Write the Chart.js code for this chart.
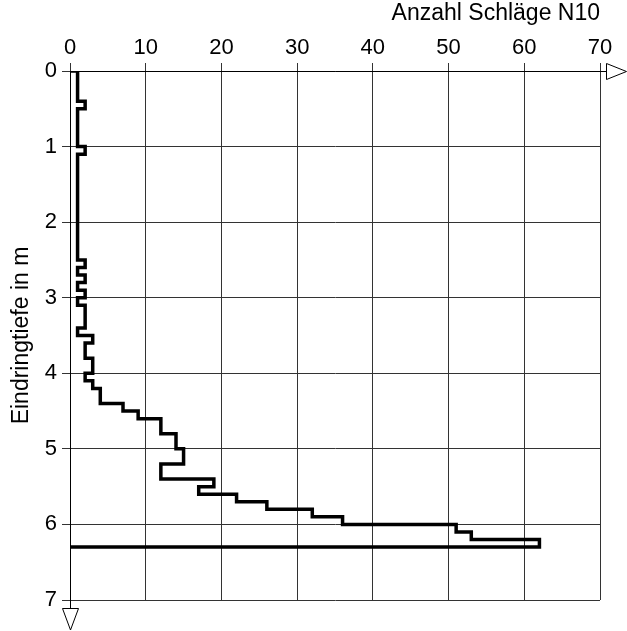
<!DOCTYPE html>
<html><head><meta charset="utf-8">
<script src="https://cdn.jsdelivr.net/npm/chart.js@4/dist/chart.umd.min.js"></script>
<style>html,body{margin:0;padding:0;background:#fff}</style>
</head><body>
<canvas id="c" width="627" height="631"></canvas>
<script>
// Penetration depth step (m) per reading
const depthStep = 0.1;
// Blows N10 per 0.1 m, from 0.0 m to 6.3 m
const blows = [
  1,1,1,1,2,1,1,1,1,1,
  2,1,1,1,1,1,1,1,1,1,
  1,1,1,1,1,2,1,2,1,2,
  1,2,2,2,1,3,2,2,3,3,
  2,3,4,4,7,9,12,12,14,14,
  15,15,12,12,19,17,22,26,32,36,
  51,53,62
];
const xTickValues = [0,10,20,30,40,50,60,70];
const yTickValues = [0,1,2,3,4,5,6,7];
const xTitle = 'Anzahl Schläge N10';
const yTitle = 'Eindringtiefe in m';

const pts = [{x:0, y:0}];
blows.forEach((v,i)=>{
  pts.push({x:v, y:Math.round(i*depthStep*100)/100});
  pts.push({x:v, y:Math.round((i+1)*depthStep*100)/100});
});
pts.push({x:0, y:Math.round(blows.length*depthStep*100)/100});

const FAM = '"Liberation Sans", Arial, sans-serif';
const TICKFONT = {family:FAM, size:22};
const TITLEFONT = {family:FAM, size:23};

const arrows = {
  id:'arrows',
  afterDraw(chart){
    const {ctx, chartArea:a} = chart;
    ctx.save();
    ctx.strokeStyle = '#000';
    ctx.lineWidth = 1;
    ctx.beginPath();
    ctx.moveTo(a.right, a.top+0.5); ctx.lineTo(a.right+7, a.top+0.5);
    ctx.moveTo(a.left+0.5, a.bottom); ctx.lineTo(a.left+0.5, a.bottom+8);
    ctx.stroke();
    ctx.fillStyle = '#fff';
    ctx.beginPath();
    ctx.moveTo(a.right+6.5, a.top-7.5);
    ctx.lineTo(a.right+26.5, a.top+0.5);
    ctx.lineTo(a.right+6.5, a.top+8.5);
    ctx.closePath(); ctx.fill(); ctx.stroke();
    ctx.beginPath();
    ctx.moveTo(a.left-7.5, a.bottom+8.5);
    ctx.lineTo(a.left+8.5, a.bottom+8.5);
    ctx.lineTo(a.left+0.5, a.bottom+30);
    ctx.closePath(); ctx.fill(); ctx.stroke();
    ctx.restore();
  }
};

new Chart(document.getElementById('c'), {
  type:'scatter',
  data:{datasets:[{
    data:pts, showLine:true, pointRadius:0, borderColor:'#000',
    borderWidth:3.5, borderJoinStyle:'miter', tension:0, fill:false
  }]},
  options:{
    responsive:false, animation:false,
    layout:{padding:{top:0,left:0,right:27,bottom:31}},
    plugins:{legend:{display:false}, tooltip:{enabled:false}},
    scales:{
      x:{
        type:'linear', position:'top', min:0, max:70,
        afterBuildTicks(s){ s.ticks = xTickValues.map(v=>({value:v})); },
        afterFit(s){ s.height = 71; },
        grid:{color:'#333', lineWidth:1, tickLength:8, drawTicks:true},
        border:{color:'#000', width:1},
        ticks:{color:'#000', font:TICKFONT, padding:2, maxRotation:0},
        title:{display:true, text:xTitle, align:'end', color:'#000', font:TITLEFONT, padding:{top:0,bottom:0}}
      },
      y:{
        type:'linear', reverse:true, min:0, max:7,
        afterBuildTicks(s){ s.ticks = yTickValues.map(v=>({value:v})); },
        afterFit(s){ s.width = 70; },
        grid:{color:'#333', lineWidth:1, tickLength:8, drawTicks:true},
        border:{color:'#000', width:1},
        ticks:{color:'#000', font:TICKFONT, padding:5},
        title:{display:true, text:yTitle, color:'#000', font:TITLEFONT, padding:{top:8,bottom:0}}
      }
    }
  },
  plugins:[arrows]
});
</script>
</body></html>
